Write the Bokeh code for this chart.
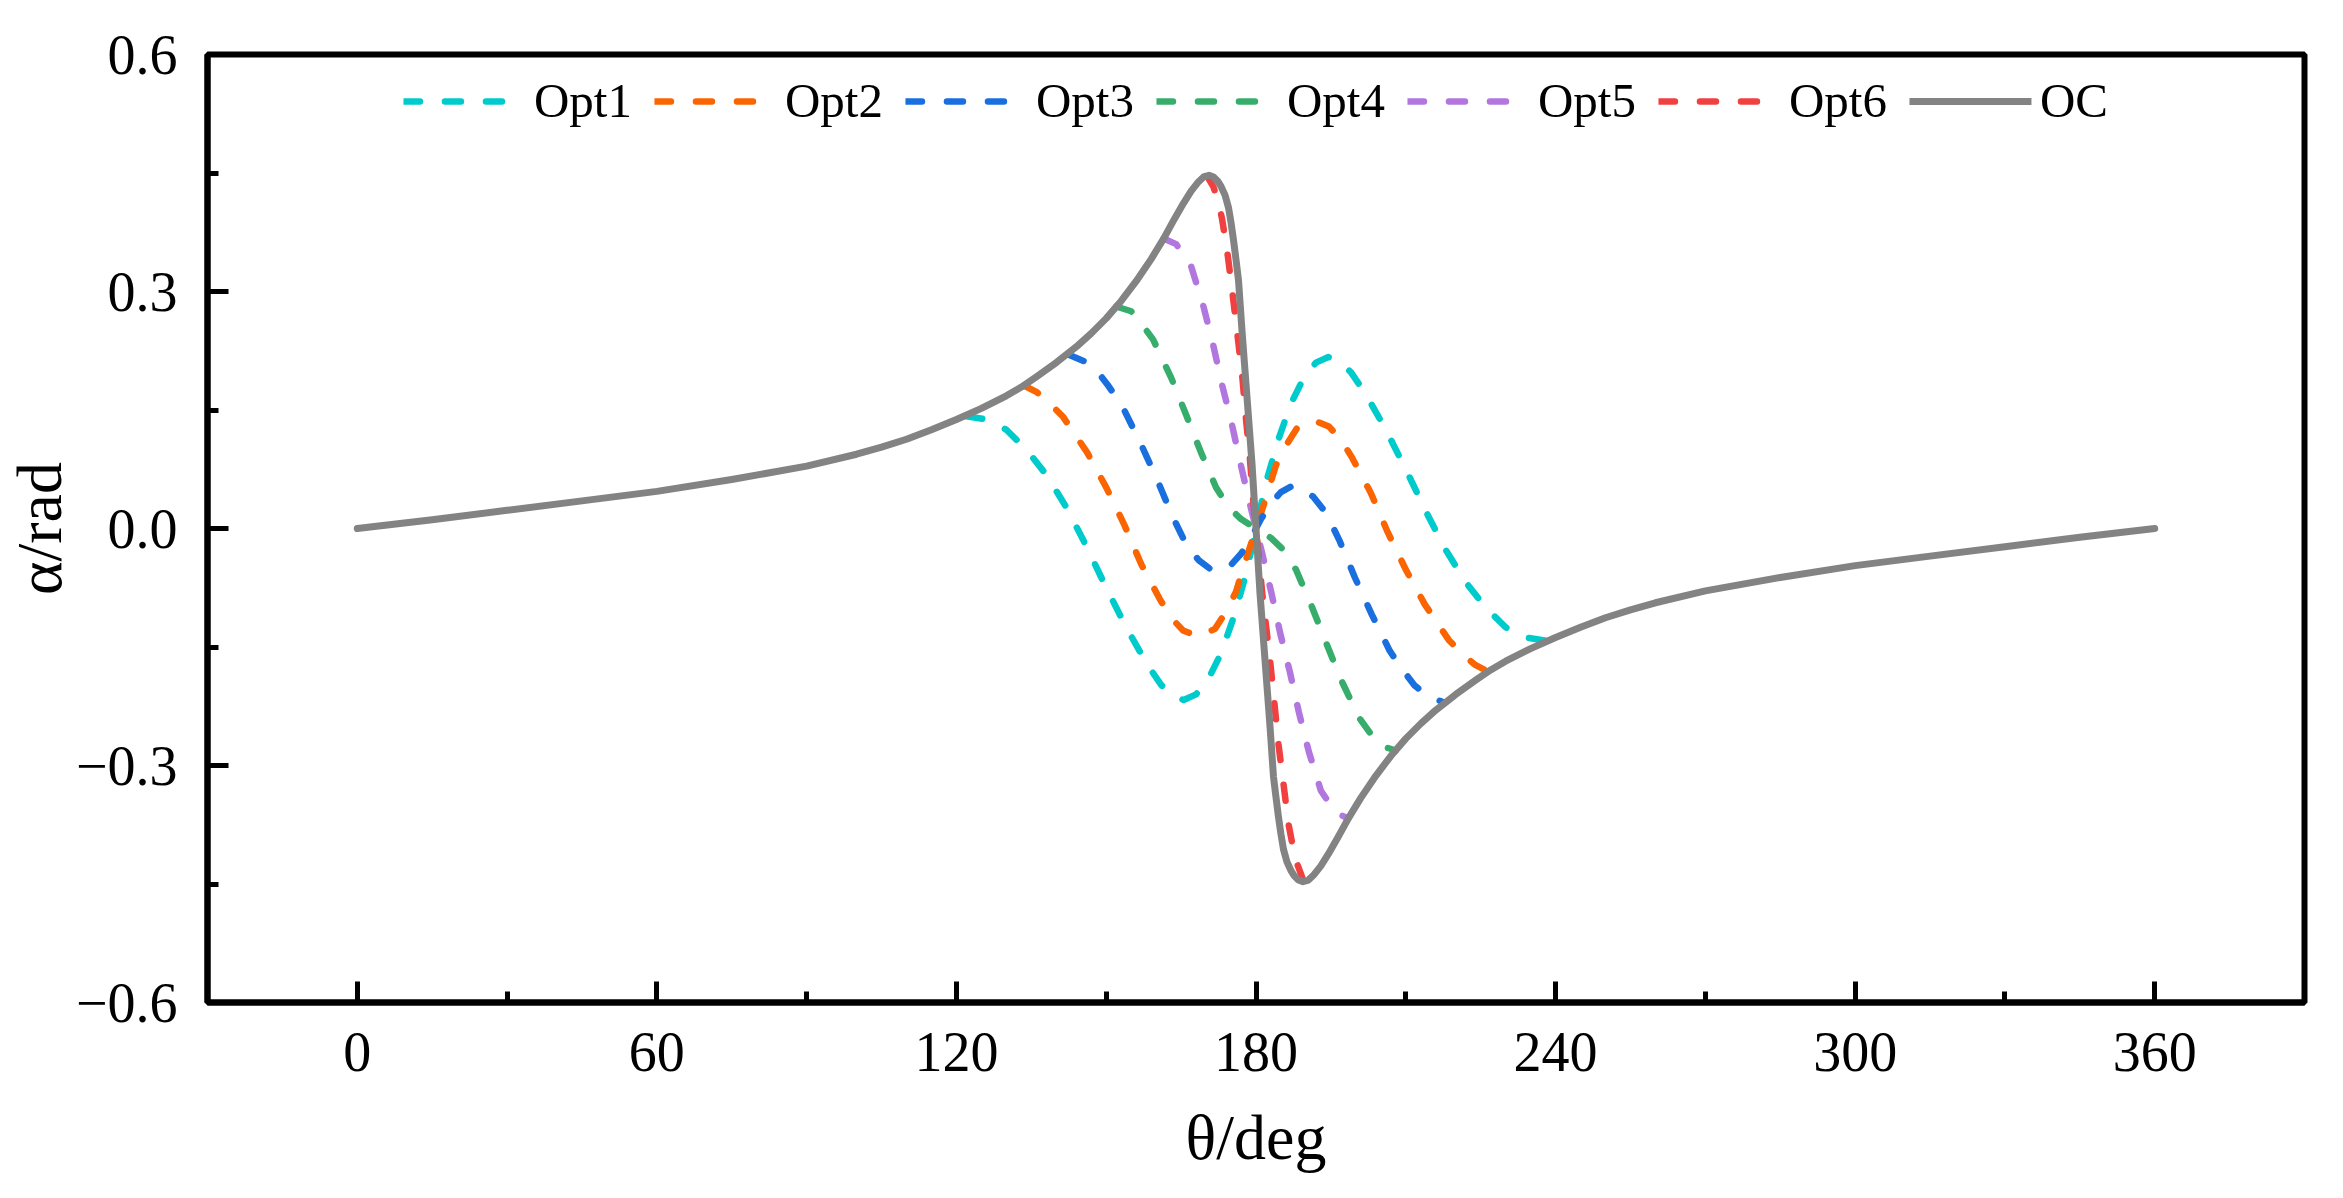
from bokeh.plotting import figure
from bokeh.models import Range1d, FixedTicker
from bokeh.embed import file_html
from bokeh.resources import INLINE

FONT = "Liberation Serif"

# ---------------- data ----------------
x_ticks = [0, 60, 120, 180, 240, 300, 360]
x_minor = [30, 90, 150, 210, 270, 330]
y_ticks = [-0.6, -0.3, 0.0, 0.3, 0.6]
y_minor = [-0.45, -0.15, 0.15, 0.45]
y_tick_labels = ["\u22120.6", "\u22120.3", "0.0", "0.3", "0.6"]

oc_theta = [0, 15, 30, 45, 60, 75, 90, 100, 105, 110, 115, 120, 125, 130, 133, 136, 140, 144,
            147, 150, 153, 156, 159, 161.5, 163.5, 165.5, 167, 168.5, 169.5, 170.6, 171.5,
            172.3, 173, 173.8, 174.5, 175, 175.5, 176, 176.5, 177.2, 177.7, 178.2, 178.7,
            179.2, 179.6, 180,
            180.4, 180.8, 181.3, 181.8, 182.3, 182.8, 183.5, 184, 184.5, 185, 185.5, 186.2,
            187, 187.7, 188.5, 189.4, 190.5, 191.5, 193, 194.5, 196.5, 198.5, 201, 204,
            207, 210, 213, 216, 220, 224, 227, 230, 235, 240, 245, 250, 255, 260, 270,
            285, 300, 315, 330, 345, 360]
oc_alpha = [0, 0.011, 0.023, 0.035, 0.047, 0.062, 0.079, 0.094, 0.103, 0.113, 0.125, 0.138,
            0.152, 0.168, 0.179, 0.192, 0.210, 0.230, 0.247, 0.266, 0.288, 0.313, 0.341,
            0.367, 0.390, 0.412, 0.427, 0.439, 0.445, 0.447, 0.445, 0.440, 0.433, 0.422,
            0.406, 0.387, 0.365, 0.340, 0.314, 0.250, 0.208, 0.166, 0.124, 0.082, 0.041, 0.0,
            -0.041, -0.082, -0.124, -0.166, -0.208, -0.250, -0.314, -0.340, -0.365, -0.387,
            -0.406, -0.422, -0.433, -0.440, -0.445, -0.447, -0.445, -0.439, -0.427, -0.412,
            -0.390, -0.367, -0.341, -0.313, -0.288, -0.266, -0.247, -0.230, -0.210, -0.192,
            -0.179, -0.168, -0.152, -0.138, -0.125, -0.113, -0.103, -0.094, -0.079,
            -0.062, -0.047, -0.035, -0.023, -0.011, 0]

opt1_theta = [122, 126, 130, 134, 138, 142, 146, 150, 154, 158, 161, 163.5, 165.5, 168, 170.5,
              173, 175.5, 178, 180, 182, 184.5, 187, 189.5, 192, 194.5, 196.5, 199, 202, 206,
              210, 214, 218, 222, 226, 230, 234, 238]
opt1_alpha = [0.142, 0.138, 0.125, 0.100, 0.068, 0.027, -0.022, -0.075, -0.125, -0.170,
              -0.198, -0.212, -0.217, -0.210, -0.190, -0.158, -0.113, -0.058, 0.0, 0.058,
              0.113, 0.158, 0.190, 0.210, 0.217, 0.212, 0.198, 0.170, 0.125, 0.075, 0.022,
              -0.027, -0.068, -0.100, -0.125, -0.138, -0.142]

opt2_theta = [133.5, 136, 138.5, 141.4, 146.2, 150, 153.6, 157, 160.7, 163, 165.4, 168.5,
              171.8, 174, 176, 178.3, 180, 181.7, 184, 186, 188.2, 191.5, 194.6, 197, 199.3,
              203, 206.4, 210, 213.8, 218.6, 221.5, 224, 226.5]
opt2_alpha = [0.181, 0.173, 0.160, 0.141, 0.096, 0.052, 0.005, -0.045, -0.089, -0.113,
              -0.129, -0.137, -0.127, -0.105, -0.080, -0.033, 0.0, 0.033, 0.080, 0.105, 0.127,
              0.137, 0.129, 0.113, 0.089, 0.045, -0.005, -0.052, -0.096, -0.141, -0.160,
              -0.173, -0.181]

opt3_theta = [142.5, 145.5, 148.2, 150.5, 153.2, 156.8, 160.2, 163.3, 166, 168.5, 171, 173,
              175, 177, 179, 180, 181, 183, 185, 187, 189, 191.5, 194, 196.7, 199.8, 203.2,
              206.8, 209.5, 211.8, 214.5, 217.5]
opt3_alpha = [0.220, 0.212, 0.199, 0.180, 0.155, 0.109, 0.062, 0.015, -0.020, -0.040, -0.052,
              -0.053, -0.046, -0.032, -0.012, 0.0, 0.012, 0.032, 0.046, 0.053, 0.052, 0.040,
              0.020, -0.015, -0.062, -0.109, -0.155, -0.180, -0.199, -0.212, -0.220]

opt4_theta = [152, 155, 157, 159.4, 163, 166, 169, 172, 174.5, 177, 180, 183, 185.5, 188, 191,
              194, 197, 200.6, 203, 205, 208]
opt4_alpha = [0.281, 0.275, 0.260, 0.239, 0.191, 0.144, 0.096, 0.052, 0.027, 0.012, 0.0,
              -0.012, -0.027, -0.052, -0.096, -0.144, -0.191, -0.239, -0.260, -0.275, -0.281]

opt5_theta = [161.5, 164, 167, 169.4, 171.4, 173.2, 175.1, 176.9, 178.7, 180, 181.3, 183.1,
              184.9, 186.8, 188.6, 190.6, 193, 196, 198.5]
opt5_alpha = [0.367, 0.360, 0.332, 0.283, 0.233, 0.182, 0.134, 0.082, 0.033, 0.0, -0.033,
              -0.082, -0.134, -0.182, -0.233, -0.283, -0.332, -0.360, -0.367]

opt6_theta = [170.2, 171.5, 172.5, 173.2, 174.4, 175.4, 176.4, 177.3, 178, 178.8, 179.4, 180,
              180.6, 181.3, 182.1, 182.9, 183.7, 184.5, 185.5, 186.5, 187.3, 188.1, 189.5]
opt6_alpha = [0.446, 0.432, 0.412, 0.392, 0.343, 0.292, 0.239, 0.189, 0.138, 0.087, 0.038, 0.0,
              -0.040, -0.085, -0.128, -0.172, -0.222, -0.273, -0.323, -0.374, -0.400, -0.422,
              -0.446]

series_names = ["Opt1", "Opt2", "Opt3", "Opt4", "Opt5", "Opt6"]
series_colors = ["#00CBCC", "#FB6501", "#1A6FDF", "#37AD6B", "#B177DE", "#F14040"]
oc_color = "#838383"

# ---------------- figure ----------------
p = figure(width=2327, height=1182, output_backend="svg", toolbar_location=None,
           x_range=Range1d(-30, 390), y_range=Range1d(-0.6, 0.6),
           min_border_left=201, min_border_right=23, min_border_top=54, min_border_bottom=180)
p.grid.visible = False
p.background_fill_color = "white"
p.border_fill_color = "white"
p.outline_line_color = "black"
p.outline_line_width = 6

for ax in (p.xaxis[0], p.yaxis[0]):
    ax.axis_line_color = "black"
    ax.axis_line_width = 6
    ax.major_tick_line_color = "black"
    ax.minor_tick_line_color = "black"
    ax.major_tick_line_width = 5
    ax.minor_tick_line_width = 5
    ax.major_tick_in = 21
    ax.major_tick_out = 0
    ax.minor_tick_in = 11
    ax.minor_tick_out = 0
    ax.major_label_text_font = FONT
    ax.major_label_text_font_size = "56px"
    ax.major_label_text_color = "black"
    ax.axis_label_text_font = FONT
    ax.axis_label_text_font_size = "64px"
    ax.axis_label_text_font_style = "normal"
    ax.axis_label_text_color = "black"

p.xaxis.ticker = FixedTicker(ticks=x_ticks, minor_ticks=x_minor)
p.yaxis.ticker = FixedTicker(ticks=y_ticks, minor_ticks=y_minor)
p.xaxis.major_label_overrides = {t: str(t) for t in x_ticks}
p.yaxis.major_label_overrides = dict(zip(y_ticks, y_tick_labels))
p.xaxis.major_label_standoff = 30
p.yaxis.major_label_standoff = 30
p.xaxis.axis_label = "\u03b8/deg"
p.yaxis.axis_label = "\u03b1/rad"
p.xaxis.axis_label_standoff = 28
p.yaxis.axis_label_standoff = -2

opt_theta = [opt1_theta, opt2_theta, opt3_theta, opt4_theta, opt5_theta, opt6_theta]
opt_alpha = [opt1_alpha, opt2_alpha, opt3_alpha, opt4_alpha, opt5_alpha, opt6_alpha]
for name, xs, ys, c in zip(series_names, opt_theta, opt_alpha, series_colors):
    p.line(xs, ys, line_color=c, line_width=6.5, line_dash="16 25", line_cap="round",
           line_join="round", legend_label=name)
p.line(oc_theta, oc_alpha, line_color=oc_color, line_width=7, line_cap="round",
       line_join="round", legend_label="OC")

lg = p.legend[0]
lg.orientation = "horizontal"
lg.location = "top_center"
lg.border_line_color = None
lg.background_fill_alpha = 0
lg.label_text_font = FONT
lg.label_text_font_size = "49px"
lg.label_text_color = "black"
lg.glyph_width = 122
lg.glyph_height = 30
lg.label_standoff = 9
lg.spacing = 22
lg.margin = 18
lg.padding = 10

open("out.html", "w").write(file_html(p, INLINE))
